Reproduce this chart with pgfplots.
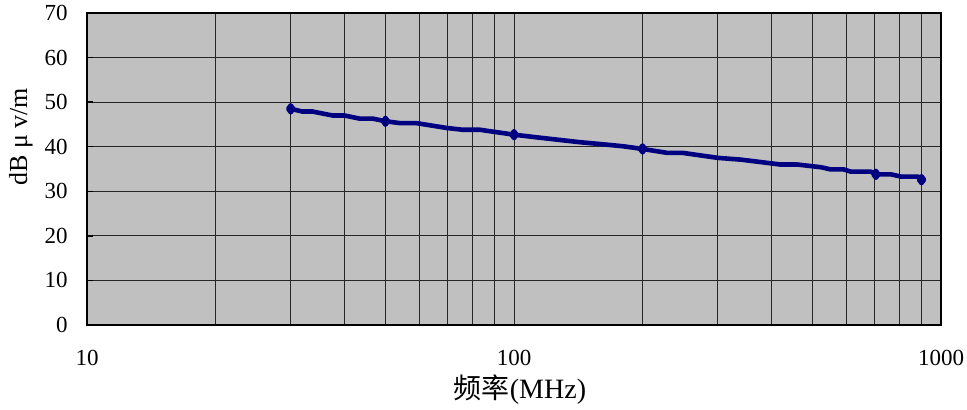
\documentclass[border=0pt]{standalone}
\usepackage{pgfplots}
\pgfplotsset{compat=1.18}
\usepackage{fontspec}
\setmainfont{Liberation Serif}
\newfontfamily\cjk{Noto Sans CJK SC}
\definecolor{plotbg}{HTML}{C0C0C0}
\definecolor{navy}{HTML}{000080}
\begin{document}
\begin{tikzpicture}
\path[use as bounding box] (-43.5pt,-42.5pt) rectangle (440pt,162.5pt);
\begin{axis}[
  at={(0,0)}, anchor=south west,
  scale only axis, width=427pt, height=156pt,
  xmode=log, log basis x=10,
  xmin=10, xmax=1000, ymin=0, ymax=70,
  xtick={10,100,1000}, xticklabels={10,100,1000},
  minor xtick={20,30,40,50,60,70,80,90,200,300,400,500,600,700,800,900},
  ytick={0,10,20,30,40,50,60,70},
  ytick pos=left,
  grid=both,
  major grid style={black!85, line width=0.5pt},
  minor grid style={black!85, line width=0.5pt},
  axis background/.style={fill=plotbg},
  axis line style={black, line width=0.7pt},
  tick style={black, line width=0.7pt},
  xtick style={draw=none},
  major tick length=3pt,
  /pgf/number format/assume math mode=true,
  tick label style={font=\fontsize{11.5}{13}\selectfont},
  xticklabel style={anchor=center, yshift=-16.5pt},
  yticklabel style={anchor=east, inner sep=0pt, xshift=-9.5pt},
  xlabel={{\cjk 频率}(MHz)},
  ylabel={dB μ v/m},
  xlabel style={font=\fontsize{14}{16}\selectfont, at={(axis description cs:0.507,0)}, anchor=center, yshift=-32.5pt},
  ylabel style={font=\fontsize{13}{15}\selectfont, at={(axis description cs:-0.0773,0.603)}, anchor=center},
]
\addplot[navy, line width=2.3pt, line join=round, mark=diamond*, mark size=1.7pt,
  mark indices={1,8,14,19,31,35}] coordinates {
(30,48.5) (31.9,47.9) (33.7,47.9) (37.6,47.0) (40.1,47.0) (43.5,46.3) (46.7,46.3)
(50,45.7) (54,45.3) (59,45.3) (69.6,44.2) (75.9,43.8) (83.2,43.8) (100,42.7)
(113,42.1) (143,41.0) (159,40.6) (180,40.1) (200,39.5) (229,38.6) (249,38.6)
(300,37.5) (340,37.1) (421,36.0) (461,36.0) (523,35.4) (552,34.9) (592,34.9)
(615,34.4) (685,34.4) (704,33.8) (763,33.8) (806,33.3) (883,33.3) (900,32.6)
};
\end{axis}
\end{tikzpicture}
\end{document}
